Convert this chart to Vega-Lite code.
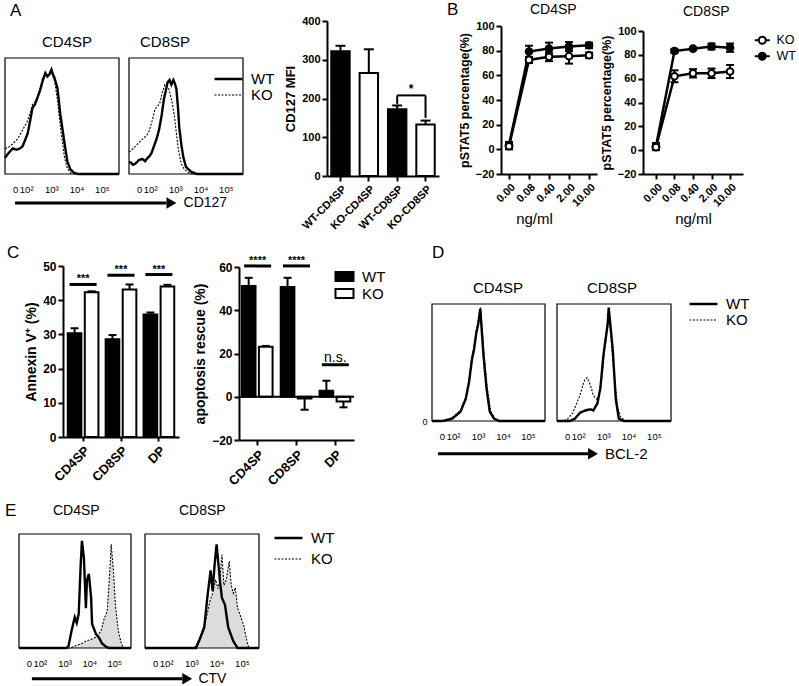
{
"$schema":"https://vega.github.io/schema/vega-lite/v6.json",
"padding":0,
"background":"white",
"columns":8,
"align":"each",
"spacing":0,
"bounds":"flush",
"resolve":{"scale":{"x":"independent","y":"independent","color":"independent","fill":"independent","stroke":"independent","strokeDash":"independent","strokeWidth":"independent","shape":"independent","size":"independent","opacity":"independent"},"legend":{"color":"independent","fill":"independent","stroke":"independent","strokeDash":"independent","strokeWidth":"independent","shape":"independent","size":"independent","opacity":"independent"}},
"concat":[
 {"width":1,"height":20,"data":{"name":"empty"},"mark":{"type":"point","size":1},"encoding":{},"title":{"text":"A","anchor":"start","frame":"group","orient":"top","offset":-31.8,"baseline":"alphabetic","dx":8,"fontSize":17,"fontWeight":"normal"}},
 {"width":1,"height":1,"data":{"name":"empty"},"mark":{"type":"point","size":1},"encoding":{}},
 {"width":60,"height":1,"data":{"name":"empty"},"mark":{"type":"point","size":1},"encoding":{}},
 {"width":1,"height":1,"data":{"name":"empty"},"mark":{"type":"point","size":1},"encoding":{}},
 {"width":1,"height":1,"data":{"name":"empty"},"mark":{"type":"point","size":1},"encoding":{}},
 {"width":1,"height":1,"data":{"name":"empty"},"mark":{"type":"point","size":1},"encoding":{},"title":{"text":"B","anchor":"start","frame":"group","orient":"top","offset":-30.8,"baseline":"alphabetic","dx":8,"fontSize":17,"fontWeight":"normal"}},
 {"width":1,"height":1,"data":{"name":"empty"},"mark":{"type":"point","size":1},"encoding":{}},
 {"width":1,"height":1,"data":{"name":"empty"},"mark":{"type":"point","size":1},"encoding":{}},

 {"width":61,"height":153,
   "title":{"text":"CD4SP","anchor":"start","frame":"group","orient":"top","offset":-41.2,"baseline":"alphabetic","dx":40,"fontSize":15},
   "layer":[
    {"data":{"name":"histA4"},"transform":[{"filter":"datum.g === 'KO'"}],"mark":{"type":"line","color":"black"},
     "encoding":{"x":{"field":"u","type":"quantitative","scale":{"domain":[1.16,5.68],"range":[3,117],"nice":false,"zero":false},"axis":{"values":[1.56,2,3,4,5],"tickCount":10,"labelExpr":"datum.value < 1.8 ? '0' : datum.value < 2.5 ? '10²' : datum.value < 3.5 ? '10³' : datum.value < 4.5 ? '10⁴' : '10⁵'","domain":false,"ticks":false,"labelFontSize":9.5,"labelFontWeight":"normal","labelPadding":10,"title":null,"labelFlush":false,"labelOverlap":false}},
      "y":{"field":"p","type":"quantitative","scale":{"domain":[0,100],"range":[153,37],"nice":false,"zero":false},"axis":null},
      "strokeDash":{"field":"g","type":"nominal","scale":{"domain":["WT","KO"],"range":[[1,0],[2,1.5]]},"legend":null},
      "strokeWidth":{"field":"g","type":"ordinal","scale":{"domain":["WT","KO"],"range":[2.4,1.1]},"legend":null}}},
    {"data":{"name":"histA4"},"transform":[{"filter":"datum.g === 'WT'"}],"mark":{"type":"line","color":"black"},
     "encoding":{"x":{"field":"u","type":"quantitative"},"y":{"field":"p","type":"quantitative"},
      "strokeDash":{"field":"g","type":"nominal","scale":{"domain":["WT","KO"],"range":[[1,0],[2,1.5]]},"legend":null},
      "strokeWidth":{"field":"g","type":"ordinal","scale":{"domain":["WT","KO"],"range":[2.4,1.1]},"legend":null}}},
    {"data":{"name":"boxRow"},"mark":{"type":"rect","filled":false,"color":"black","strokeWidth":1.2},"encoding":{"x":{"datum":1.16},"x2":{"datum":5.68},"y":{"datum":0},"y2":{"datum":100}}},
    {"data":{"name":"arrowA"},"mark":{"type":"rule","color":"black","strokeWidth":3},"encoding":{"x":{"datum":1.56},"x2":{"datum":7.56},"y":{"datum":-25}}},
    {"data":{"name":"arrowA"},"mark":{"type":"point","shape":"triangle-right","filled":true,"color":"black","opacity":1,"size":130},"encoding":{"x":{"datum":7.76},"y":{"datum":-25}}},
    {"data":{"name":"arrowA"},"mark":{"type":"text","align":"left","baseline":"middle","fontSize":14,"color":"black"},"encoding":{"x":{"datum":8.24},"y":{"datum":-25},"text":{"field":"t"}}}
   ]},
 {"width":116,"height":153,
   "title":{"text":"CD8SP","anchor":"start","frame":"group","orient":"top","offset":-41.2,"baseline":"alphabetic","dx":77,"fontSize":15},
   "layer":[
    {"data":{"name":"histA8"},"transform":[{"filter":"datum.g === 'KO'"}],"mark":{"type":"line","color":"black"},
     "encoding":{"x":{"field":"u","type":"quantitative","scale":{"domain":[1.16,5.68],"range":[66,180],"nice":false,"zero":false},"axis":{"values":[1.56,2,3,4,5],"tickCount":10,"labelExpr":"datum.value < 1.8 ? '0' : datum.value < 2.5 ? '10²' : datum.value < 3.5 ? '10³' : datum.value < 4.5 ? '10⁴' : '10⁵'","domain":false,"ticks":false,"labelFontSize":9.5,"labelFontWeight":"normal","labelPadding":10,"title":null,"labelFlush":false,"labelOverlap":false}},
      "y":{"field":"p","type":"quantitative","scale":{"domain":[0,100],"range":[153,37],"nice":false,"zero":false},"axis":null},
      "strokeDash":{"field":"g","type":"nominal","scale":{"domain":["WT","KO"],"range":[[1,0],[2,1.5]]},"legend":{"orient":"none","legendX":158,"legendY":50.5,"title":null,"symbolType":"M-2.8,0H2.8","symbolSize":100,"symbolStrokeColor":"black","labelOffset":15,"labelFontSize":15,"rowPadding":0}},
      "strokeWidth":{"field":"g","type":"ordinal","scale":{"domain":["WT","KO"],"range":[2.4,1.1]},"legend":{"orient":"none","legendX":158,"legendY":50.5,"title":null,"symbolType":"M-2.8,0H2.8","symbolSize":100,"symbolStrokeColor":"black","labelOffset":15,"labelFontSize":15,"rowPadding":0}}}},
    {"data":{"name":"histA8"},"transform":[{"filter":"datum.g === 'WT'"}],"mark":{"type":"line","color":"black"},
     "encoding":{"x":{"field":"u","type":"quantitative"},"y":{"field":"p","type":"quantitative"},
      "strokeDash":{"field":"g","type":"nominal","scale":{"domain":["WT","KO"],"range":[[1,0],[2,1.5]]}},
      "strokeWidth":{"field":"g","type":"ordinal","scale":{"domain":["WT","KO"],"range":[2.4,1.1]}}}},
    {"data":{"name":"boxRow"},"mark":{"type":"rect","filled":false,"color":"black","strokeWidth":1.2},"encoding":{"x":{"datum":1.16},"x2":{"datum":5.68},"y":{"datum":0},"y2":{"datum":100}}}
   ]},
 {"width":1,"height":1,"data":{"name":"empty"},"mark":{"type":"point","size":1},"encoding":{}},
 {"width":1,"height":1,"data":{"name":"empty"},"mark":{"type":"point","size":1},"encoding":{}},
 {"width":112,"height":155,
   "layer":[
    {"data":{"name":"barA"},"mark":{"type":"bar","stroke":"black","strokeWidth":2},
     "encoding":{"x":{"field":"cat","type":"nominal","scale":{"domain":["WT-CD4SP","KO-CD4SP","WT-CD8SP","KO-CD8SP"],"paddingInner":0.35,"paddingOuter":0.15},"axis":{"title":null,"labelAngle":-45,"labelFontSize":11,"labelPadding":2}},
      "y":{"field":"v","type":"quantitative","title":"CD127 MFI","scale":{"domain":[0,400],"nice":false},"axis":{"values":[0,100,200,300,400],"tickCount":10,"labelFontSize":11,"titleFontSize":13}},
      "fill":{"field":"g","type":"nominal","scale":{"domain":["WT","KO"],"range":["black","white"]},"legend":null}}},
    {"data":{"name":"barA"},"mark":{"type":"rule","color":"black","strokeWidth":2},
     "encoding":{"x":{"field":"cat","type":"nominal"},"y":{"field":"v","type":"quantitative","title":"CD127 MFI"},"y2":{"field":"cap"}}},
    {"data":{"name":"barA"},"mark":{"type":"tick","color":"black","opacity":1,"thickness":2,"size":10},
     "encoding":{"x":{"field":"cat","type":"nominal"},"y":{"field":"cap","type":"quantitative","title":"CD127 MFI"}}},
    {"data":{"name":"brA"},"mark":{"type":"rule","color":"black","strokeWidth":2},
     "encoding":{"x":{"field":"a","type":"nominal"},"x2":{"field":"b"},"y":{"field":"top","type":"quantitative","title":"CD127 MFI"}}},
    {"data":{"name":"brA"},"mark":{"type":"rule","color":"black","strokeWidth":2},
     "encoding":{"x":{"field":"a","type":"nominal"},"y":{"field":"la","type":"quantitative","title":"CD127 MFI"},"y2":{"field":"top"}}},
    {"data":{"name":"brA"},"mark":{"type":"rule","color":"black","strokeWidth":2},
     "encoding":{"x":{"field":"b","type":"nominal"},"y":{"field":"lb","type":"quantitative","title":"CD127 MFI"},"y2":{"field":"top"}}},
    {"data":{"name":"brA"},"mark":{"type":"text","color":"black","fontSize":12,"fontWeight":"bold","baseline":"alphabetic","dx":14,"dy":-2},
     "encoding":{"x":{"field":"a","type":"nominal"},"y":{"field":"top","type":"quantitative","title":"CD127 MFI"},"text":{"field":"t"}}}
   ]},
 {"width":1,"height":1,"data":{"name":"empty"},"mark":{"type":"point","size":1},"encoding":{}},
 {"width":96,"height":153,
   "title":{"text":"CD4SP","anchor":"start","frame":"group","orient":"top","offset":-8.3,"baseline":"alphabetic","dx":29,"fontSize":14},
   "data":{"name":"pst4"},
   "encoding":{"x":{"field":"c","type":"ordinal","scale":{"type":"point","domain":["0.00","0.08","0.40","2.00","10.00"],"padding":0.4},"axis":{"title":"ng/ml","labelAngle":-45,"labelFontSize":11,"titleFontSize":15,"titleFontWeight":"normal","titlePadding":3,"titleX":33}}},
   "layer":[
    {"mark":{"type":"line","color":"black","strokeWidth":2.5},"encoding":{"y":{"field":"m","type":"quantitative","title":"pSTAT5 percentage(%)","scale":{"domain":[-20,100],"range":[153,5],"nice":false,"zero":false},"axis":{"values":[-20,0,20,40,60,80,100],"tickCount":10,"labelFontSize":11,"titleFontSize":12.5}},"detail":{"field":"g"}}},
    {"mark":{"type":"rule","color":"black","strokeWidth":2},"encoding":{"y":{"field":"lo","type":"quantitative","title":"pSTAT5 percentage(%)"},"y2":{"field":"hi"}}},
    {"mark":{"type":"tick","color":"black","opacity":1,"thickness":2,"size":8},"encoding":{"y":{"field":"hi","type":"quantitative","title":"pSTAT5 percentage(%)"}}},
    {"mark":{"type":"tick","color":"black","opacity":1,"thickness":2,"size":8},"encoding":{"y":{"field":"lo","type":"quantitative","title":"pSTAT5 percentage(%)"}}},
    {"mark":{"type":"point","shape":"circle","size":45,"stroke":"black","strokeWidth":2,"opacity":1,"filled":true},"encoding":{"y":{"field":"m","type":"quantitative","title":"pSTAT5 percentage(%)"},"fill":{"field":"g","type":"nominal","scale":{"domain":["KO","WT"],"range":["white","black"]},"legend":null}}}
   ]},
 {"width":100,"height":153,
   "title":{"text":"CD8SP","anchor":"start","frame":"group","orient":"top","offset":-9.3,"baseline":"alphabetic","dx":40,"fontSize":14},
   "data":{"name":"pst8"},
   "encoding":{"x":{"field":"c","type":"ordinal","scale":{"type":"point","domain":["0.00","0.08","0.40","2.00","10.00"],"padding":0.7},"axis":{"title":"ng/ml","labelAngle":-45,"labelFontSize":11,"titleFontSize":15,"titleFontWeight":"normal","titlePadding":3}}},
   "layer":[
    {"mark":{"type":"line","color":"black","strokeWidth":2.5},"encoding":{"y":{"field":"m","type":"quantitative","title":"pSTAT5 percentage(%)","scale":{"domain":[-20,100],"range":[153,10],"nice":false,"zero":false},"axis":{"values":[-20,0,20,40,60,80,100],"tickCount":10,"labelFontSize":11,"titleFontSize":12.5}},"detail":{"field":"g"}}},
    {"mark":{"type":"rule","color":"black","strokeWidth":2},"encoding":{"y":{"field":"lo","type":"quantitative","title":"pSTAT5 percentage(%)"},"y2":{"field":"hi"}}},
    {"mark":{"type":"tick","color":"black","opacity":1,"thickness":2,"size":8},"encoding":{"y":{"field":"hi","type":"quantitative","title":"pSTAT5 percentage(%)"}}},
    {"mark":{"type":"tick","color":"black","opacity":1,"thickness":2,"size":8},"encoding":{"y":{"field":"lo","type":"quantitative","title":"pSTAT5 percentage(%)"}}},
    {"mark":{"type":"point","shape":"circle","size":45,"stroke":"black","strokeWidth":2,"opacity":1,"filled":true},"encoding":{"y":{"field":"m","type":"quantitative","title":"pSTAT5 percentage(%)"},"fill":{"field":"g","type":"nominal","scale":{"domain":["KO","WT"],"range":["white","black"]},"legend":{"orient":"none","legendX":113,"legendY":13,"title":null,"symbolType":"M-1.5,0H-0.7M0.7,0H1.5M0.7,0A0.7,0.7,0,1,1,-0.7,0A0.7,0.7,0,1,1,0.7,0","symbolSize":100,"symbolStrokeColor":"black","symbolStrokeWidth":2,"labelOffset":8,"labelFontSize":12.5,"rowPadding":0}}}}
   ]},

 {"width":1,"height":1,"data":{"name":"empty"},"mark":{"type":"point","size":1},"encoding":{},"title":{"text":"C","anchor":"start","frame":"group","orient":"top","offset":-98.8,"baseline":"alphabetic","dx":5,"fontSize":17,"fontWeight":"normal"}},
 {"width":116,"height":261,
   "layer":[
    {"data":{"name":"annex"},"mark":{"type":"bar","stroke":"black","strokeWidth":2},
     "encoding":{"x":{"field":"grp","type":"nominal","scale":{"domain":["CD4SP","CD8SP","DP"],"paddingInner":0.1,"paddingOuter":0.08},"axis":{"title":null,"labelAngle":-45,"labelFontSize":13,"tickSize":4,"labelPadding":3}},
      "xOffset":{"field":"g","type":"nominal","scale":{"domain":["WT","KO"],"paddingInner":0.2,"paddingOuter":0.1}},
      "y":{"field":"v","type":"quantitative","title":"Annexin V⁺ (%)","scale":{"domain":[0,50],"range":[261,90],"nice":false},"axis":{"values":[0,10,20,30,40,50],"tickCount":10,"labelFontSize":12,"titleFontSize":14}},
      "fill":{"field":"g","type":"nominal","scale":{"domain":["WT","KO"],"range":["black","white"]},"legend":null}}},
    {"data":{"name":"annex"},"mark":{"type":"rule","color":"black","strokeWidth":2},
     "encoding":{"x":{"field":"grp","type":"nominal"},"xOffset":{"field":"g","type":"nominal"},"y":{"field":"v","type":"quantitative","title":"Annexin V⁺ (%)"},"y2":{"field":"cap"}}},
    {"data":{"name":"annex"},"mark":{"type":"tick","color":"black","opacity":1,"thickness":2,"size":8},
     "encoding":{"x":{"field":"grp","type":"nominal"},"xOffset":{"field":"g","type":"nominal"},"y":{"field":"cap","type":"quantitative","title":"Annexin V⁺ (%)"}}},
    {"data":{"name":"sigAnn"},"mark":{"type":"tick","color":"black","opacity":1,"thickness":3,"size":27},
     "encoding":{"x":{"field":"grp","type":"nominal"},"y":{"field":"y","type":"quantitative","title":"Annexin V⁺ (%)"}}},
    {"data":{"name":"sigAnn"},"mark":{"type":"text","color":"black","fontSize":11,"fontWeight":"bold","baseline":"alphabetic","dy":-2},
     "encoding":{"x":{"field":"grp","type":"nominal"},"y":{"field":"y","type":"quantitative","title":"Annexin V⁺ (%)"},"text":{"field":"t"}}}
   ]},
 {"width":1,"height":1,"data":{"name":"empty"},"mark":{"type":"point","size":1},"encoding":{},"title":{"text":"D","anchor":"start","frame":"group","orient":"top","offset":-98.8,"baseline":"alphabetic","dx":253,"fontSize":17,"fontWeight":"normal"}},
 {"width":88,"height":264,
   "resolve":{"scale":{"x":"independent"}},
   "layer":[
    {"layer":[
     {"data":{"name":"rescue"},"mark":{"type":"bar","stroke":"black","strokeWidth":2},
      "encoding":{"x":{"field":"grp","type":"nominal","scale":{"domain":["CD4SP","CD8SP","DP"],"range":[0,115],"paddingInner":0.1,"paddingOuter":0.03},"axis":{"title":null,"labelAngle":-45,"labelFontSize":13,"tickSize":5,"labelPadding":3}},
       "xOffset":{"field":"g","type":"nominal","scale":{"domain":["WT","KO"],"paddingInner":0.2,"paddingOuter":0.1}},
       "y":{"field":"v","type":"quantitative","title":"apoptosis rescue (%)","scale":{"domain":[-20,60],"range":[264,91],"nice":false,"zero":false},"axis":{"values":[-20,0,20,40,60],"tickCount":10,"labelFontSize":12,"titleFontSize":14}},
       "fill":{"field":"g","type":"nominal","scale":{"domain":["WT","KO"],"range":["black","white"]},"legend":{"orient":"none","legendX":98,"legendY":93,"title":null,"symbolType":"M-1.5,-0.75H1.5V0.75H-1.5Z","symbolSize":144,"symbolStrokeColor":"black","symbolStrokeWidth":2,"labelOffset":10,"labelFontSize":15,"rowPadding":0}}}},
     {"data":{"name":"rescue"},"mark":{"type":"rule","color":"black","strokeWidth":2},
      "encoding":{"x":{"field":"grp","type":"nominal"},"xOffset":{"field":"g","type":"nominal"},"y":{"field":"v","type":"quantitative","title":"apoptosis rescue (%)"},"y2":{"field":"cap"}}},
     {"data":{"name":"rescue"},"mark":{"type":"tick","color":"black","opacity":1,"thickness":2,"size":8},
      "encoding":{"x":{"field":"grp","type":"nominal"},"xOffset":{"field":"g","type":"nominal"},"y":{"field":"cap","type":"quantitative","title":"apoptosis rescue (%)"}}},
     {"data":{"name":"sigRes"},"mark":{"type":"tick","color":"black","opacity":1,"thickness":3,"size":27},
      "encoding":{"x":{"field":"grp","type":"nominal"},"y":{"field":"y","type":"quantitative","title":"apoptosis rescue (%)"}}},
     {"data":{"name":"sigRes"},"transform":[{"filter":"datum.t !== 'n.s.'"}],"mark":{"type":"text","color":"black","fontSize":11,"fontWeight":"bold","baseline":"alphabetic","dy":-2},
      "encoding":{"x":{"field":"grp","type":"nominal"},"y":{"field":"y","type":"quantitative","title":"apoptosis rescue (%)"},"text":{"field":"t"}}},
     {"data":{"name":"sigRes"},"transform":[{"filter":"datum.t === 'n.s.'"}],"mark":{"type":"text","color":"black","fontSize":14,"fontWeight":"normal","baseline":"alphabetic","dy":-3},
      "encoding":{"x":{"field":"grp","type":"nominal"},"y":{"field":"y","type":"quantitative","title":"apoptosis rescue (%)"},"text":{"field":"t"}}}
    ]},
    {"data":{"name":"zeroLine"},"mark":{"type":"rule","color":"black","strokeWidth":2},
     "encoding":{"x":{"datum":0,"type":"quantitative","scale":{"domain":[0,1],"range":[0,115]},"axis":null},"x2":{"datum":1},"y":{"field":"y","type":"quantitative","title":"apoptosis rescue (%)"}}}
   ]},
 {"width":1,"height":1,"data":{"name":"empty"},"mark":{"type":"point","size":1},"encoding":{}},
 {"width":62,"height":245,
   "title":{"text":"CD4SP","anchor":"start","frame":"group","orient":"top","offset":-132.2,"baseline":"alphabetic","dx":34,"fontSize":15},
   "layer":[
    {"data":{"name":"histD4"},"transform":[{"filter":"datum.g === 'KO'"}],"mark":{"type":"line","color":"black"},
     "encoding":{"x":{"field":"u","type":"quantitative","scale":{"domain":[1.16,5.68],"range":[-7,106],"nice":false,"zero":false},"axis":{"values":[1.56,2,3,4,5],"tickCount":10,"labelExpr":"datum.value < 1.8 ? '0' : datum.value < 2.5 ? '10²' : datum.value < 3.5 ? '10³' : datum.value < 4.5 ? '10⁴' : '10⁵'","domain":false,"ticks":false,"labelFontSize":9.5,"labelFontWeight":"normal","labelPadding":10,"title":null,"labelFlush":false,"labelOverlap":false}},
      "y":{"field":"p","type":"quantitative","scale":{"domain":[0,100],"range":[245,128],"nice":false,"zero":false},"axis":{"values":[0],"tickCount":10,"labelFontSize":9,"labelFontWeight":"normal","domain":false,"ticks":false,"labelPadding":12,"title":null}},
      "strokeDash":{"field":"g","type":"nominal","scale":{"domain":["WT","KO"],"range":[[1,0],[2,1.5]]},"legend":null},
      "strokeWidth":{"field":"g","type":"ordinal","scale":{"domain":["WT","KO"],"range":[2.4,1.1]},"legend":null}}},
    {"data":{"name":"histD4"},"transform":[{"filter":"datum.g === 'WT'"}],"mark":{"type":"line","color":"black"},
     "encoding":{"x":{"field":"u","type":"quantitative"},"y":{"field":"p","type":"quantitative"},
      "strokeDash":{"field":"g","type":"nominal","scale":{"domain":["WT","KO"],"range":[[1,0],[2,1.5]]},"legend":null},
      "strokeWidth":{"field":"g","type":"ordinal","scale":{"domain":["WT","KO"],"range":[2.4,1.1]},"legend":null}}},
    {"data":{"name":"boxRow"},"mark":{"type":"rect","filled":false,"color":"black","strokeWidth":1.2},"encoding":{"x":{"datum":1.16},"x2":{"datum":5.68},"y":{"datum":0},"y2":{"datum":100}}},
    {"data":{"name":"arrowD"},"mark":{"type":"rule","color":"black","strokeWidth":3},"encoding":{"x":{"datum":1.4},"x2":{"datum":7.4},"y":{"datum":-28}}},
    {"data":{"name":"arrowD"},"mark":{"type":"point","shape":"triangle-right","filled":true,"color":"black","opacity":1,"size":130},"encoding":{"x":{"datum":7.6},"y":{"datum":-28}}},
    {"data":{"name":"arrowD"},"mark":{"type":"text","align":"left","baseline":"middle","fontSize":15,"color":"black"},"encoding":{"x":{"datum":8.08},"y":{"datum":-28},"text":{"field":"t"}}}
   ]},
 {"width":142,"height":245,
   "title":{"text":"CD8SP","anchor":"start","frame":"group","orient":"top","offset":-132.2,"baseline":"alphabetic","dx":86,"fontSize":15},
   "layer":[
    {"data":{"name":"histD8"},"transform":[{"filter":"datum.g === 'KO'"}],"mark":{"type":"line","color":"black"},
     "encoding":{"x":{"field":"u","type":"quantitative","scale":{"domain":[1.16,5.68],"range":[56,170],"nice":false,"zero":false},"axis":{"values":[1.56,2,3,4,5],"tickCount":10,"labelExpr":"datum.value < 1.8 ? '0' : datum.value < 2.5 ? '10²' : datum.value < 3.5 ? '10³' : datum.value < 4.5 ? '10⁴' : '10⁵'","domain":false,"ticks":false,"labelFontSize":9.5,"labelFontWeight":"normal","labelPadding":10,"title":null,"labelFlush":false,"labelOverlap":false}},
      "y":{"field":"p","type":"quantitative","scale":{"domain":[0,100],"range":[245,128],"nice":false,"zero":false},"axis":null},
      "strokeDash":{"field":"g","type":"nominal","scale":{"domain":["WT","KO"],"range":[[1,0],[2,1.5]]},"legend":{"orient":"none","legendX":195,"legendY":120.5,"title":null,"symbolType":"M-2.8,0H2.8","symbolSize":100,"symbolStrokeColor":"black","labelOffset":15,"labelFontSize":15,"rowPadding":0}},
      "strokeWidth":{"field":"g","type":"ordinal","scale":{"domain":["WT","KO"],"range":[2.4,1.1]},"legend":{"orient":"none","legendX":195,"legendY":120.5,"title":null,"symbolType":"M-2.8,0H2.8","symbolSize":100,"symbolStrokeColor":"black","labelOffset":15,"labelFontSize":15,"rowPadding":0}}}},
    {"data":{"name":"histD8"},"transform":[{"filter":"datum.g === 'WT'"}],"mark":{"type":"line","color":"black"},
     "encoding":{"x":{"field":"u","type":"quantitative"},"y":{"field":"p","type":"quantitative"},
      "strokeDash":{"field":"g","type":"nominal","scale":{"domain":["WT","KO"],"range":[[1,0],[2,1.5]]}},
      "strokeWidth":{"field":"g","type":"ordinal","scale":{"domain":["WT","KO"],"range":[2.4,1.1]}}}},
    {"data":{"name":"boxRow"},"mark":{"type":"rect","filled":false,"color":"black","strokeWidth":1.2},"encoding":{"x":{"datum":1.16},"x2":{"datum":5.68},"y":{"datum":0},"y2":{"datum":100}}}
   ]},
 {"width":1,"height":1,"data":{"name":"empty"},"mark":{"type":"point","size":1},"encoding":{}},

 {"width":61,"height":208,
   "title":{"text":"CD4SP","anchor":"start","frame":"group","orient":"top","offset":-89.3,"baseline":"alphabetic","dx":51,"fontSize":14},
   "layer":[
    {"data":{"name":"histE4"},"transform":[{"filter":"datum.g === 'KO'"}],"mark":{"type":"area","color":"#dcdcdc"},
     "encoding":{"x":{"field":"u","type":"quantitative","scale":{"domain":[1.16,5.68],"range":[17,129],"nice":false,"zero":false},"axis":{"values":[1.56,2,3,4,5],"tickCount":10,"labelExpr":"datum.value < 1.8 ? '0' : datum.value < 2.5 ? '10²' : datum.value < 3.5 ? '10³' : datum.value < 4.5 ? '10⁴' : '10⁵'","domain":false,"ticks":false,"labelFontSize":9.5,"labelFontWeight":"normal","labelPadding":10,"title":null,"labelFlush":false,"labelOverlap":false}},
      "y":{"field":"p","type":"quantitative","scale":{"domain":[0,100],"range":[208,94],"nice":false,"zero":false},"axis":null}}},
    {"data":{"name":"histE4"},"transform":[{"filter":"datum.g === 'KO'"}],"mark":{"type":"line","color":"black"},
     "encoding":{"x":{"field":"u","type":"quantitative"},"y":{"field":"p","type":"quantitative"},
      "strokeDash":{"field":"g","type":"nominal","scale":{"domain":["WT","KO"],"range":[[1,0],[2,1.5]]},"legend":null},
      "strokeWidth":{"field":"g","type":"ordinal","scale":{"domain":["WT","KO"],"range":[2.4,1.1]},"legend":null}}},
    {"data":{"name":"histE4"},"transform":[{"filter":"datum.g === 'WT'"}],"mark":{"type":"line","color":"black"},
     "encoding":{"x":{"field":"u","type":"quantitative"},"y":{"field":"p","type":"quantitative"},
      "strokeDash":{"field":"g","type":"nominal","scale":{"domain":["WT","KO"],"range":[[1,0],[2,1.5]]},"legend":null},
      "strokeWidth":{"field":"g","type":"ordinal","scale":{"domain":["WT","KO"],"range":[2.4,1.1]},"legend":null}}},
    {"data":{"name":"boxRow"},"mark":{"type":"rect","filled":false,"color":"black","strokeWidth":1.2},"encoding":{"x":{"datum":1.16},"x2":{"datum":5.68},"y":{"datum":0},"y2":{"datum":100}}},
    {"data":{"name":"arrowE"},"mark":{"type":"rule","color":"black","strokeWidth":3},"encoding":{"x":{"datum":1.68},"x2":{"datum":7.75},"y":{"datum":-27}}},
    {"data":{"name":"arrowE"},"mark":{"type":"point","shape":"triangle-right","filled":true,"color":"black","opacity":1,"size":130},"encoding":{"x":{"datum":7.95},"y":{"datum":-27}}},
    {"data":{"name":"arrowE"},"mark":{"type":"text","align":"left","baseline":"middle","fontSize":14,"color":"black"},"encoding":{"x":{"datum":8.4},"y":{"datum":-27},"text":{"field":"t"}}}
   ]},
 {"width":116,"height":208,
   "title":{"text":"CD8SP","anchor":"start","frame":"group","orient":"top","offset":-89.3,"baseline":"alphabetic","dx":116,"fontSize":14},
   "layer":[
    {"data":{"name":"histE8"},"transform":[{"filter":"datum.g === 'KO'"}],"mark":{"type":"area","color":"#dcdcdc"},
     "encoding":{"x":{"field":"u","type":"quantitative","scale":{"domain":[1.16,5.68],"range":[82,196],"nice":false,"zero":false},"axis":{"values":[1.56,2,3,4,5],"tickCount":10,"labelExpr":"datum.value < 1.8 ? '0' : datum.value < 2.5 ? '10²' : datum.value < 3.5 ? '10³' : datum.value < 4.5 ? '10⁴' : '10⁵'","domain":false,"ticks":false,"labelFontSize":9.5,"labelFontWeight":"normal","labelPadding":10,"title":null,"labelFlush":false,"labelOverlap":false}},
      "y":{"field":"p","type":"quantitative","scale":{"domain":[0,100],"range":[208,94],"nice":false,"zero":false},"axis":null}}},
    {"data":{"name":"histE8"},"transform":[{"filter":"datum.g === 'KO'"}],"mark":{"type":"line","color":"black"},
     "encoding":{"x":{"field":"u","type":"quantitative"},"y":{"field":"p","type":"quantitative"},
      "strokeDash":{"field":"g","type":"nominal","scale":{"domain":["WT","KO"],"range":[[1,0],[2,1.5]]},"legend":{"orient":"none","legendX":218,"legendY":90.5,"title":null,"symbolType":"M-2.8,0H2.8","symbolSize":100,"symbolStrokeColor":"black","labelOffset":15,"labelFontSize":15,"rowPadding":5}},
      "strokeWidth":{"field":"g","type":"ordinal","scale":{"domain":["WT","KO"],"range":[2.4,1.1]},"legend":{"orient":"none","legendX":218,"legendY":90.5,"title":null,"symbolType":"M-2.8,0H2.8","symbolSize":100,"symbolStrokeColor":"black","labelOffset":15,"labelFontSize":15,"rowPadding":5}}}},
    {"data":{"name":"histE8"},"transform":[{"filter":"datum.g === 'WT'"}],"mark":{"type":"line","color":"black"},
     "encoding":{"x":{"field":"u","type":"quantitative"},"y":{"field":"p","type":"quantitative"},
      "strokeDash":{"field":"g","type":"nominal","scale":{"domain":["WT","KO"],"range":[[1,0],[2,1.5]]}},
      "strokeWidth":{"field":"g","type":"ordinal","scale":{"domain":["WT","KO"],"range":[2.4,1.1]}}}},
    {"data":{"name":"boxRow"},"mark":{"type":"rect","filled":false,"color":"black","strokeWidth":1.2},"encoding":{"x":{"datum":1.16},"x2":{"datum":5.68},"y":{"datum":0},"y2":{"datum":100}}}
   ]},
 {"width":1,"height":1,"data":{"name":"empty"},"mark":{"type":"point","size":1},"encoding":{},"title":{"text":"E","anchor":"start","frame":"group","orient":"top","offset":-92.8,"baseline":"alphabetic","dx":-174,"fontSize":17,"fontWeight":"normal"}},
 {"width":1,"height":1,"data":{"name":"empty"},"mark":{"type":"point","size":1},"encoding":{}},
 {"width":1,"height":1,"data":{"name":"empty"},"mark":{"type":"point","size":1},"encoding":{}},
 {"width":1,"height":1,"data":{"name":"empty"},"mark":{"type":"point","size":1},"encoding":{}},
 {"width":1,"height":1,"data":{"name":"empty"},"mark":{"type":"point","size":1},"encoding":{}},
 {"width":1,"height":1,"data":{"name":"empty"},"mark":{"type":"point","size":1},"encoding":{}}
],
"datasets":{
"empty":[{"k":0}],
"boxRow":[{"k":1}],
"arrowA":[{"t":"CD127"}],
"arrowD":[{"t":"BCL-2"}],
"arrowE":[{"t":"CTV"}],
"zeroLine":[{"y":0}],
"histA4":[
{"u":1.16,"p":14,"g":"WT"},{"u":1.3,"p":18,"g":"WT"},{"u":1.47,"p":22,"g":"WT"},{"u":1.62,"p":21,"g":"WT"},{"u":1.75,"p":22,"g":"WT"},{"u":1.86,"p":24,"g":"WT"},{"u":1.97,"p":30,"g":"WT"},{"u":2.06,"p":35,"g":"WT"},{"u":2.15,"p":45,"g":"WT"},{"u":2.25,"p":57,"g":"WT"},{"u":2.35,"p":60,"g":"WT"},{"u":2.45,"p":66,"g":"WT"},{"u":2.55,"p":72,"g":"WT"},{"u":2.65,"p":80,"g":"WT"},{"u":2.76,"p":87,"g":"WT"},{"u":2.84,"p":84,"g":"WT"},{"u":2.92,"p":86,"g":"WT"},{"u":3.0,"p":90,"g":"WT"},{"u":3.06,"p":86,"g":"WT"},{"u":3.12,"p":83,"g":"WT"},{"u":3.24,"p":74,"g":"WT"},{"u":3.35,"p":52,"g":"WT"},{"u":3.51,"p":28,"g":"WT"},{"u":3.63,"p":11,"g":"WT"},{"u":3.75,"p":4,"g":"WT"},{"u":3.9,"p":1,"g":"WT"},{"u":4.06,"p":0,"g":"WT"},{"u":5.68,"p":0,"g":"WT"},
{"u":1.16,"p":22,"g":"KO"},{"u":1.3,"p":23,"g":"KO"},{"u":1.47,"p":26,"g":"KO"},{"u":1.65,"p":30,"g":"KO"},{"u":1.86,"p":38,"g":"KO"},{"u":2.06,"p":46,"g":"KO"},{"u":2.15,"p":52,"g":"KO"},{"u":2.25,"p":60,"g":"KO"},{"u":2.35,"p":62,"g":"KO"},{"u":2.45,"p":66,"g":"KO"},{"u":2.55,"p":74,"g":"KO"},{"u":2.65,"p":83,"g":"KO"},{"u":2.76,"p":87,"g":"KO"},{"u":2.88,"p":85,"g":"KO"},{"u":3.0,"p":88,"g":"KO"},{"u":3.13,"p":80,"g":"KO"},{"u":3.25,"p":62,"g":"KO"},{"u":3.36,"p":40,"g":"KO"},{"u":3.52,"p":14,"g":"KO"},{"u":3.63,"p":5,"g":"KO"},{"u":3.75,"p":1,"g":"KO"},{"u":3.95,"p":0,"g":"KO"},{"u":5.68,"p":0,"g":"KO"}],
"histA8":[
{"u":1.16,"p":10,"g":"WT"},{"u":1.23,"p":10,"g":"WT"},{"u":1.32,"p":8,"g":"WT"},{"u":1.42,"p":9,"g":"WT"},{"u":1.55,"p":12,"g":"WT"},{"u":1.69,"p":13,"g":"WT"},{"u":1.8,"p":11,"g":"WT"},{"u":1.9,"p":14,"g":"WT"},{"u":1.96,"p":15,"g":"WT"},{"u":2.05,"p":18,"g":"WT"},{"u":2.15,"p":24,"g":"WT"},{"u":2.25,"p":30,"g":"WT"},{"u":2.35,"p":38,"g":"WT"},{"u":2.45,"p":50,"g":"WT"},{"u":2.54,"p":64,"g":"WT"},{"u":2.62,"p":72,"g":"WT"},{"u":2.69,"p":79,"g":"WT"},{"u":2.77,"p":81,"g":"WT"},{"u":2.84,"p":77,"g":"WT"},{"u":2.92,"p":81,"g":"WT"},{"u":2.98,"p":78,"g":"WT"},{"u":3.04,"p":73,"g":"WT"},{"u":3.1,"p":58,"g":"WT"},{"u":3.15,"p":41,"g":"WT"},{"u":3.23,"p":26,"g":"WT"},{"u":3.31,"p":15,"g":"WT"},{"u":3.42,"p":6,"g":"WT"},{"u":3.62,"p":2,"g":"WT"},{"u":3.85,"p":0,"g":"WT"},{"u":5.68,"p":0,"g":"WT"},
{"u":1.16,"p":19,"g":"KO"},{"u":1.23,"p":20,"g":"KO"},{"u":1.32,"p":22,"g":"KO"},{"u":1.42,"p":24,"g":"KO"},{"u":1.55,"p":27,"g":"KO"},{"u":1.69,"p":30,"g":"KO"},{"u":1.85,"p":33,"g":"KO"},{"u":1.96,"p":37,"g":"KO"},{"u":2.08,"p":46,"g":"KO"},{"u":2.19,"p":56,"g":"KO"},{"u":2.28,"p":58,"g":"KO"},{"u":2.38,"p":61,"g":"KO"},{"u":2.48,"p":70,"g":"KO"},{"u":2.58,"p":77,"g":"KO"},{"u":2.65,"p":76,"g":"KO"},{"u":2.73,"p":74,"g":"KO"},{"u":2.85,"p":64,"g":"KO"},{"u":2.96,"p":50,"g":"KO"},{"u":3.05,"p":33,"g":"KO"},{"u":3.12,"p":21,"g":"KO"},{"u":3.23,"p":9,"g":"KO"},{"u":3.35,"p":4,"g":"KO"},{"u":3.54,"p":1,"g":"KO"},{"u":3.69,"p":0,"g":"KO"},{"u":5.68,"p":0,"g":"KO"}],
"histD4":[
{"u":1.16,"p":0,"g":"WT"},{"u":1.59,"p":0,"g":"WT"},{"u":1.97,"p":2,"g":"WT"},{"u":2.3,"p":8,"g":"WT"},{"u":2.51,"p":19,"g":"WT"},{"u":2.64,"p":33,"g":"WT"},{"u":2.76,"p":53,"g":"WT"},{"u":2.84,"p":61,"g":"WT"},{"u":2.93,"p":75,"g":"WT"},{"u":3.01,"p":83,"g":"WT"},{"u":3.09,"p":96,"g":"WT"},{"u":3.22,"p":56,"g":"WT"},{"u":3.34,"p":28,"g":"WT"},{"u":3.47,"p":8,"g":"WT"},{"u":3.64,"p":2,"g":"WT"},{"u":3.84,"p":0,"g":"WT"},{"u":5.68,"p":0,"g":"WT"},
{"u":1.16,"p":0,"g":"KO"},{"u":1.59,"p":0,"g":"KO"},{"u":1.97,"p":3,"g":"KO"},{"u":2.3,"p":9,"g":"KO"},{"u":2.51,"p":20,"g":"KO"},{"u":2.64,"p":35,"g":"KO"},{"u":2.76,"p":55,"g":"KO"},{"u":2.84,"p":63,"g":"KO"},{"u":2.93,"p":77,"g":"KO"},{"u":3.01,"p":86,"g":"KO"},{"u":3.1,"p":97,"g":"KO"},{"u":3.24,"p":58,"g":"KO"},{"u":3.36,"p":30,"g":"KO"},{"u":3.5,"p":9,"g":"KO"},{"u":3.67,"p":2,"g":"KO"},{"u":3.88,"p":0,"g":"KO"},{"u":5.68,"p":0,"g":"KO"}],
"histD8":[
{"u":1.16,"p":0,"g":"WT"},{"u":1.67,"p":0,"g":"WT"},{"u":1.87,"p":2,"g":"WT"},{"u":2.07,"p":7,"g":"WT"},{"u":2.28,"p":9,"g":"WT"},{"u":2.48,"p":10,"g":"WT"},{"u":2.6,"p":9,"g":"WT"},{"u":2.76,"p":15,"g":"WT"},{"u":2.88,"p":28,"g":"WT"},{"u":3.0,"p":56,"g":"WT"},{"u":3.17,"p":83,"g":"WT"},{"u":3.21,"p":97,"g":"WT"},{"u":3.37,"p":61,"g":"WT"},{"u":3.49,"p":19,"g":"WT"},{"u":3.61,"p":2,"g":"WT"},{"u":3.81,"p":0,"g":"WT"},{"u":5.68,"p":0,"g":"WT"},
{"u":1.16,"p":0,"g":"KO"},{"u":1.55,"p":1,"g":"KO"},{"u":1.79,"p":7,"g":"KO"},{"u":2.07,"p":22,"g":"KO"},{"u":2.22,"p":33,"g":"KO"},{"u":2.28,"p":36,"g":"KO"},{"u":2.36,"p":37,"g":"KO"},{"u":2.48,"p":31,"g":"KO"},{"u":2.6,"p":22,"g":"KO"},{"u":2.76,"p":18,"g":"KO"},{"u":2.84,"p":23,"g":"KO"},{"u":2.96,"p":42,"g":"KO"},{"u":3.09,"p":72,"g":"KO"},{"u":3.21,"p":92,"g":"KO"},{"u":3.29,"p":75,"g":"KO"},{"u":3.41,"p":42,"g":"KO"},{"u":3.57,"p":11,"g":"KO"},{"u":3.69,"p":3,"g":"KO"},{"u":3.9,"p":0,"g":"KO"},{"u":5.68,"p":0,"g":"KO"}],
"histE4":[
{"u":1.16,"p":0,"g":"WT"},{"u":3.08,"p":0,"g":"WT"},{"u":3.16,"p":2,"g":"WT"},{"u":3.28,"p":15,"g":"WT"},{"u":3.41,"p":27,"g":"WT"},{"u":3.49,"p":22,"g":"WT"},{"u":3.57,"p":30,"g":"WT"},{"u":3.65,"p":73,"g":"WT"},{"u":3.7,"p":94,"g":"WT"},{"u":3.78,"p":79,"g":"WT"},{"u":3.86,"p":35,"g":"WT"},{"u":3.9,"p":59,"g":"WT"},{"u":3.98,"p":65,"g":"WT"},{"u":4.07,"p":44,"g":"WT"},{"u":4.11,"p":21,"g":"WT"},{"u":4.27,"p":12,"g":"WT"},{"u":4.39,"p":9,"g":"WT"},{"u":4.51,"p":4,"g":"WT"},{"u":4.68,"p":1,"g":"WT"},{"u":4.8,"p":0,"g":"WT"},{"u":5.68,"p":0,"g":"WT"},
{"u":1.16,"p":0,"g":"KO"},{"u":3.24,"p":0,"g":"KO"},{"u":3.45,"p":2,"g":"KO"},{"u":3.7,"p":4,"g":"KO"},{"u":3.86,"p":6,"g":"KO"},{"u":4.11,"p":8,"g":"KO"},{"u":4.31,"p":10,"g":"KO"},{"u":4.47,"p":15,"g":"KO"},{"u":4.6,"p":26,"g":"KO"},{"u":4.72,"p":32,"g":"KO"},{"u":4.84,"p":73,"g":"KO"},{"u":4.88,"p":91,"g":"KO"},{"u":4.97,"p":68,"g":"KO"},{"u":5.05,"p":38,"g":"KO"},{"u":5.09,"p":30,"g":"KO"},{"u":5.17,"p":15,"g":"KO"},{"u":5.3,"p":3,"g":"KO"},{"u":5.38,"p":0,"g":"KO"},{"u":5.68,"p":0,"g":"KO"}],
"histE8":[
{"u":1.16,"p":0,"g":"WT"},{"u":3.18,"p":0,"g":"WT"},{"u":3.3,"p":6,"g":"WT"},{"u":3.51,"p":18,"g":"WT"},{"u":3.63,"p":44,"g":"WT"},{"u":3.76,"p":68,"g":"WT"},{"u":3.84,"p":50,"g":"WT"},{"u":3.92,"p":73,"g":"WT"},{"u":4.0,"p":91,"g":"WT"},{"u":4.13,"p":59,"g":"WT"},{"u":4.21,"p":44,"g":"WT"},{"u":4.33,"p":38,"g":"WT"},{"u":4.46,"p":18,"g":"WT"},{"u":4.66,"p":6,"g":"WT"},{"u":4.83,"p":0,"g":"WT"},{"u":5.68,"p":0,"g":"WT"},
{"u":1.16,"p":0,"g":"KO"},{"u":3.1,"p":0,"g":"KO"},{"u":3.18,"p":2,"g":"KO"},{"u":3.39,"p":12,"g":"KO"},{"u":3.59,"p":26,"g":"KO"},{"u":3.72,"p":40,"g":"KO"},{"u":3.84,"p":48,"g":"KO"},{"u":3.96,"p":60,"g":"KO"},{"u":4.05,"p":52,"g":"KO"},{"u":4.13,"p":60,"g":"KO"},{"u":4.21,"p":82,"g":"KO"},{"u":4.29,"p":55,"g":"KO"},{"u":4.38,"p":60,"g":"KO"},{"u":4.5,"p":76,"g":"KO"},{"u":4.58,"p":55,"g":"KO"},{"u":4.66,"p":48,"g":"KO"},{"u":4.74,"p":53,"g":"KO"},{"u":4.83,"p":35,"g":"KO"},{"u":4.95,"p":28,"g":"KO"},{"u":5.07,"p":20,"g":"KO"},{"u":5.2,"p":6,"g":"KO"},{"u":5.28,"p":0,"g":"KO"},{"u":5.68,"p":0,"g":"KO"}],
"barA":[
{"cat":"WT-CD4SP","g":"WT","v":322,"cap":336},
{"cat":"KO-CD4SP","g":"KO","v":266,"cap":327},
{"cat":"WT-CD8SP","g":"WT","v":172,"cap":182},
{"cat":"KO-CD8SP","g":"KO","v":133,"cap":143}],
"brA":[{"a":"WT-CD8SP","b":"KO-CD8SP","top":208,"la":186,"lb":150,"t":"*"}],
"pst4":[
{"c":"0.00","g":"WT","m":3.5,"lo":1,"hi":6},{"c":"0.08","g":"WT","m":79.3,"lo":74.5,"hi":84},{"c":"0.40","g":"WT","m":81.7,"lo":77,"hi":86.5},{"c":"2.00","g":"WT","m":83.3,"lo":79.5,"hi":87},{"c":"10.00","g":"WT","m":84.4,"lo":82,"hi":86.5},
{"c":"0.00","g":"KO","m":2.5,"lo":0,"hi":5},{"c":"0.08","g":"KO","m":72.5,"lo":70,"hi":75},{"c":"0.40","g":"KO","m":75,"lo":71.5,"hi":78.5},{"c":"2.00","g":"KO","m":75.5,"lo":69.5,"hi":81},{"c":"10.00","g":"KO","m":76.3,"lo":74,"hi":78.5}],
"pst8":[
{"c":"0.00","g":"WT","m":3,"lo":0.5,"hi":5.5},{"c":"0.08","g":"WT","m":83.2,"lo":81.5,"hi":85},{"c":"0.40","g":"WT","m":85.2,"lo":84,"hi":86.5},{"c":"2.00","g":"WT","m":87,"lo":84.5,"hi":89.5},{"c":"10.00","g":"WT","m":86,"lo":82.5,"hi":89.5},
{"c":"0.00","g":"KO","m":2.5,"lo":0,"hi":6},{"c":"0.08","g":"KO","m":62,"lo":57,"hi":67},{"c":"0.40","g":"KO","m":64.5,"lo":61,"hi":68},{"c":"2.00","g":"KO","m":64.5,"lo":60.5,"hi":68.5},{"c":"10.00","g":"KO","m":66,"lo":60.5,"hi":71.5}],
"annex":[
{"grp":"CD4SP","g":"WT","v":30.3,"cap":31.8},{"grp":"CD4SP","g":"KO","v":42.3,"cap":42.6},
{"grp":"CD8SP","g":"WT","v":28.6,"cap":29.8},{"grp":"CD8SP","g":"KO","v":43.1,"cap":44.6},
{"grp":"DP","g":"WT","v":35.8,"cap":36.4},{"grp":"DP","g":"KO","v":44.0,"cap":44.5}],
"sigAnn":[{"grp":"CD4SP","y":44.6,"t":"***"},{"grp":"CD8SP","y":47.3,"t":"***"},{"grp":"DP","y":47.5,"t":"***"}],
"rescue":[
{"grp":"CD4SP","g":"WT","v":51.2,"cap":55},{"grp":"CD4SP","g":"KO","v":23.1,"cap":23.5},
{"grp":"CD8SP","g":"WT","v":50.8,"cap":55},{"grp":"CD8SP","g":"KO","v":-0.8,"cap":-6},
{"grp":"DP","g":"WT","v":2.8,"cap":7.4},{"grp":"DP","g":"KO","v":-2.2,"cap":-4.9}],
"sigRes":[{"grp":"CD4SP","y":60.5,"t":"****"},{"grp":"CD8SP","y":60.5,"t":"****"},{"grp":"DP","y":14.8,"t":"n.s."}]
},
"config":{
"font":"Liberation Sans",
"view":{"stroke":null},
"point":{"opacity":0},
"axis":{"domainColor":"black","domainWidth":2,"tickColor":"black","tickWidth":2,"tickSize":5,"labelColor":"black","labelFontSize":12,"labelFontWeight":"bold","labelFont":"Liberation Sans","titleFont":"Liberation Sans","titleFontSize":13,"titleFontWeight":"bold","titleColor":"black","grid":false,"labelPadding":2,"labelOverlap":false,"labelFlush":false},
"legend":{"labelFont":"Liberation Sans","labelColor":"black","labelFontSize":15,"padding":0},
"title":{"font":"Liberation Sans","color":"black","fontWeight":"normal","fontSize":15}
}
}
